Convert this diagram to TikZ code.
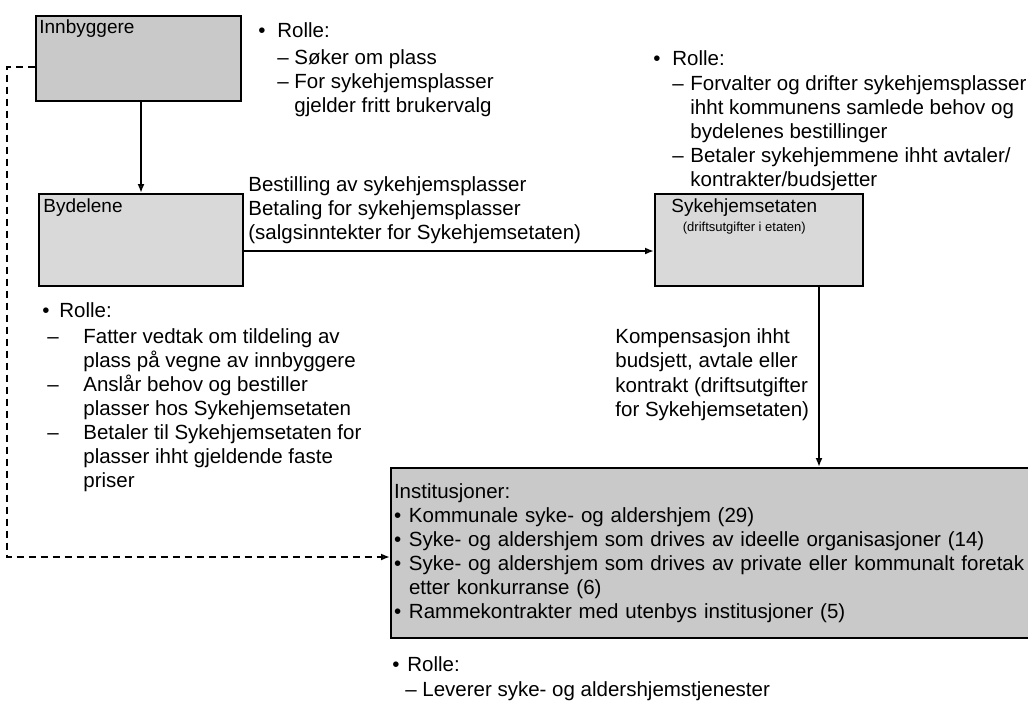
\documentclass[tikz,border=0pt]{standalone}
\usepackage{fontspec}
\setmainfont{Liberation Sans}
\usetikzlibrary{arrows.meta,positioning}

\tikzset{
  enhet/.style={draw, line width=2pt, anchor=north west, inner sep=0pt},
  boxtekst/.style={anchor=north west, inner sep=4pt, font=\fontsize{19}{22}\selectfont},
  tekst/.style={anchor=north west, align=left, inner sep=0pt, font=\fontsize{20.5}{24}\selectfont},
  pil/.style={line width=2pt, -{Latex[open, length=9pt, width=7pt]}},
  stiplet/.style={pil, dash pattern=on 7pt off 5pt},
}
\newcommand{\prikk}[1][17pt]{\makebox[#1][l]{\textbullet}}
\newcommand{\strek}[2]{\hspace*{#1}\makebox[\dimexpr#2-#1\relax][l]{\textendash}}

\begin{document}
\begin{tikzpicture}[x=1pt, y=-1pt, thick]
  \useasboundingbox (0,0) rectangle (1028,702);

  \node[enhet, fill=gray!42, minimum width=205, minimum height=85,
        label={[boxtekst]north west:Innbyggere}] (innb) at (35,15) {};
  \node[enhet, fill=gray!30, minimum width=204, minimum height=92,
        label={[boxtekst, inner sep=5pt]north west:Bydelene}] (byd) at (38,193) {};
  \node[enhet, fill=gray!30, minimum width=208, minimum height=92,
        label={[boxtekst, inner sep=5pt, xshift=12pt, align=center]north west:{Sykehjemsetaten\\[-3pt]
          {\fontsize{13}{15}\selectfont(driftsutgifter i etaten)}}}] (syk) at (654,193) {};
  \node[enhet, fill=gray!42, text width=650, minimum height=170, inner sep=3pt,
        align=left, font=\fontsize{20.5}{24}\selectfont] (inst) at (390,467) {%
    Institusjoner:\\
    \prikk[15pt]Kommunale syke- og aldershjem (29)\\
    \prikk[15pt]Syke- og aldershjem som drives av ideelle organisasjoner (14)\\
    \prikk[15pt]Syke- og aldershjem som drives av private eller kommunalt foretak\\
    \hspace*{15pt}etter konkurranse (6)\\
    \prikk[15pt]Rammekontrakter med utenbys institusjoner (5)\\[4pt]};

  \node[tekst] (rolle-innb) at (258,22) {%
    \prikk[19pt]Rolle:\\[3pt]
    \strek{19pt}{36pt}Søker om plass\\
    \strek{19pt}{36pt}For sykehjemsplasser\\
    \hspace*{36pt}gjelder fritt brukervalg};
  \node[tekst] (rolle-syk) at (653,50) {%
    \prikk[19pt]Rolle:\\[1pt]
    \strek{19pt}{37pt}Forvalter og drifter sykehjemsplasser\\
    \hspace*{37pt}ihht kommunens samlede behov og\\
    \hspace*{37pt}bydelenes bestillinger\\
    \strek{19pt}{37pt}Betaler sykehjemmene ihht avtaler/\\
    \hspace*{37pt}kontrakter/budsjetter};
  \node[tekst] (rolle-byd) at (42,302) {%
    \prikk Rolle:\\[2pt]
    \strek{5pt}{41pt}Fatter vedtak om tildeling av\\
    \hspace*{41pt}plass på vegne av innbyggere\\
    \strek{5pt}{41pt}Anslår behov og bestiller\\
    \hspace*{41pt}plasser hos Sykehjemsetaten\\
    \strek{5pt}{41pt}Betaler til Sykehjemsetaten for\\
    \hspace*{41pt}plasser ihht gjeldende faste\\
    \hspace*{41pt}priser};
  \node[tekst] (rolle-inst) at (392,656) {%
    \prikk[15pt]Rolle:\\[1pt]
    \strek{13pt}{30pt}Leverer syke- og aldershjemstjenester};

  \node[tekst] (bestilling) at (248,176) {Bestilling av sykehjemsplasser\\
    Betaling for sykehjemsplasser\\(salgsinntekter for Sykehjemsetaten)};
  \node[tekst, font=\fontsize{20.5}{24.5}\selectfont] (kompensasjon) at (615,328) {Kompensasjon ihht\\
    budsjett, avtale eller\\kontrakt (driftsutgifter\\for Sykehjemsetaten)};

  \draw[pil] (byd.north |- innb.south) -- (byd.north);
  \draw[pil] ([yshift=-11pt]byd.east) -- ([yshift=-11pt]byd.east -| syk.west);
  \draw[pil] ([xshift=60pt]syk.south) -- ([xshift=60pt]syk.south |- inst.north);
  \coordinate (hjorne) at (7,557);
  \draw[stiplet] ([yshift=-8pt]innb.west) -| (hjorne) -- (hjorne -| inst.west);
\end{tikzpicture}
\end{document}
